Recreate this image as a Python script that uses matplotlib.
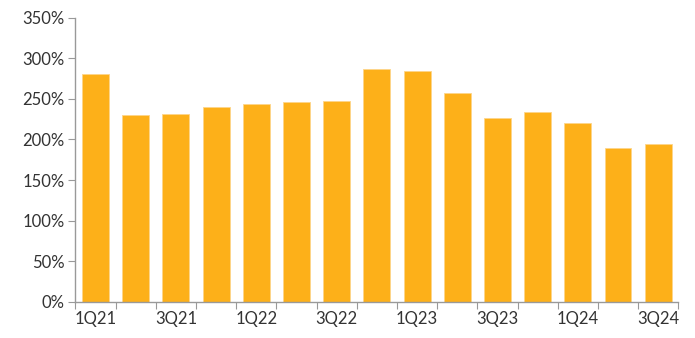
import matplotlib
matplotlib.use("Agg")
import matplotlib.pyplot as plt
import numpy as np

# quarterly ratio, in percent
quarters = ["1Q21", "2Q21", "3Q21", "4Q21", "1Q22", "2Q22", "3Q22", "4Q22",
            "1Q23", "2Q23", "3Q23", "4Q23", "1Q24", "2Q24", "3Q24"]
ratio = [281, 230, 231, 240, 244, 246, 247, 287, 285, 257, 226, 234, 220, 190, 194]

yticks = [0, 50, 100, 150, 200, 250, 300, 350]

plt.rcParams['font.family'] = ['Lato', 'DejaVu Sans']

fig = plt.figure(figsize=(6.95, 3.38), dpi=100)
ax = fig.add_axes([0.1086, 0.1074, 0.8674, 0.840])

x = np.arange(len(quarters))
ax.bar(x, ratio, width=0.67, color='#FDB019', edgecolor='#FDD58A', linewidth=0.6)

ax.set_xlim(-0.5, len(quarters) - 0.5)
ax.set_ylim(0, 350)
ax.set_yticks(yticks)
ax.set_yticklabels([f"{v}%" for v in yticks])

# ticks sit between the bars, labels under every other bar
ax.set_xticks(np.arange(-0.5, len(quarters) + 0.5, 1.0))
ax.set_xticklabels([])
ax.set_xticks(x[::2], minor=True)
ax.set_xticklabels(quarters[::2], minor=True)
ax.tick_params(axis='x', which='minor', length=0, pad=7)
ax.tick_params(axis='x', which='major', length=5, direction='out', color='#999999')
ax.tick_params(axis='y', length=5, direction='out', color='#999999', pad=3)
ax.tick_params(axis='both', which='both', labelsize=12, labelcolor='#333333')

for side in ['top', 'right']:
    ax.spines[side].set_visible(False)
for side in ['left', 'bottom']:
    ax.spines[side].set_color('#999999')
    ax.spines[side].set_linewidth(1)

fig.savefig("out.png", dpi=100)
